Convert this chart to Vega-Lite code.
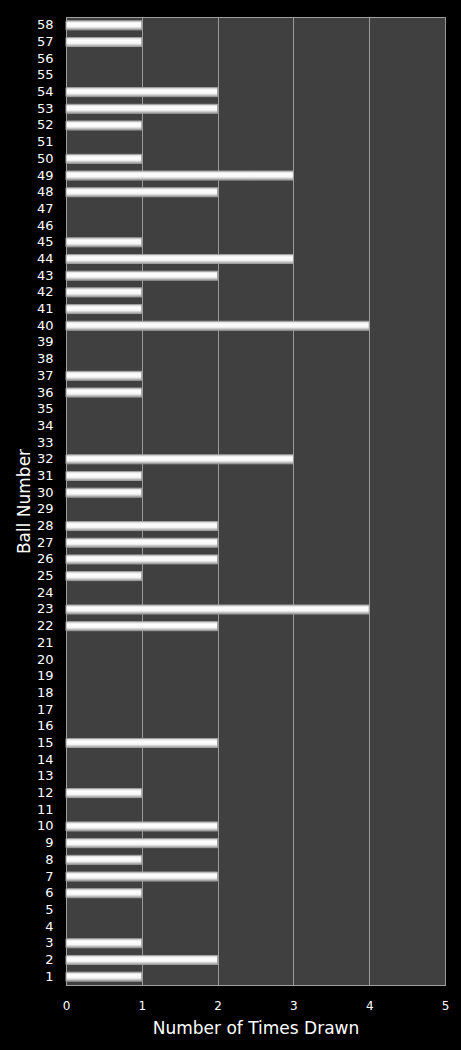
{
  "$schema": "https://vega.github.io/schema/vega-lite/v6.json",
  "width": 379,
  "height": 968,
  "autosize": "none",
  "padding": {"left": 66, "top": 17, "right": 16, "bottom": 65},
  "background": "#000000",
  "data": {
    "values": [
      {"ball": 58, "drawn": 1}, {"ball": 57, "drawn": 1}, {"ball": 56, "drawn": 0},
      {"ball": 55, "drawn": 0}, {"ball": 54, "drawn": 2}, {"ball": 53, "drawn": 2},
      {"ball": 52, "drawn": 1}, {"ball": 51, "drawn": 0}, {"ball": 50, "drawn": 1},
      {"ball": 49, "drawn": 3}, {"ball": 48, "drawn": 2}, {"ball": 47, "drawn": 0},
      {"ball": 46, "drawn": 0}, {"ball": 45, "drawn": 1}, {"ball": 44, "drawn": 3},
      {"ball": 43, "drawn": 2}, {"ball": 42, "drawn": 1}, {"ball": 41, "drawn": 1},
      {"ball": 40, "drawn": 4}, {"ball": 39, "drawn": 0}, {"ball": 38, "drawn": 0},
      {"ball": 37, "drawn": 1}, {"ball": 36, "drawn": 1}, {"ball": 35, "drawn": 0},
      {"ball": 34, "drawn": 0}, {"ball": 33, "drawn": 0}, {"ball": 32, "drawn": 3},
      {"ball": 31, "drawn": 1}, {"ball": 30, "drawn": 1}, {"ball": 29, "drawn": 0},
      {"ball": 28, "drawn": 2}, {"ball": 27, "drawn": 2}, {"ball": 26, "drawn": 2},
      {"ball": 25, "drawn": 1}, {"ball": 24, "drawn": 0}, {"ball": 23, "drawn": 4},
      {"ball": 22, "drawn": 2}, {"ball": 21, "drawn": 0}, {"ball": 20, "drawn": 0},
      {"ball": 19, "drawn": 0}, {"ball": 18, "drawn": 0}, {"ball": 17, "drawn": 0},
      {"ball": 16, "drawn": 0}, {"ball": 15, "drawn": 2}, {"ball": 14, "drawn": 0},
      {"ball": 13, "drawn": 0}, {"ball": 12, "drawn": 1}, {"ball": 11, "drawn": 0},
      {"ball": 10, "drawn": 2}, {"ball": 9, "drawn": 2}, {"ball": 8, "drawn": 1},
      {"ball": 7, "drawn": 2}, {"ball": 6, "drawn": 1}, {"ball": 5, "drawn": 0},
      {"ball": 4, "drawn": 0}, {"ball": 3, "drawn": 1}, {"ball": 2, "drawn": 2},
      {"ball": 1, "drawn": 1}
    ]
  },
  "mark": {
    "type": "bar",
    "color": {
      "gradient": "linear",
      "x1": 0, "y1": 0, "x2": 0, "y2": 1,
      "stops": [
        {"offset": 0, "color": "#d0d0d0"},
        {"offset": 0.3, "color": "#ffffff"},
        {"offset": 0.65, "color": "#f6f6f6"},
        {"offset": 1, "color": "#9a9a9a"}
      ]
    },
    "stroke": "#a0a0a0",
    "strokeWidth": 1
  },
  "encoding": {
    "y": {
      "field": "ball",
      "type": "ordinal",
      "sort": "descending",
      "scale": {"paddingInner": 0.46, "paddingOuter": 0.23},
      "title": "Ball Number",
      "axis": {
        "ticks": false,
        "domain": true,
        "domainColor": "#a0a0a0",
        "labelPadding": 13,
        "labelFontSize": 13,
        "titleFontSize": 17,
        "titleFontWeight": "normal",
        "titlePadding": 3
      }
    },
    "x": {
      "field": "drawn",
      "type": "quantitative",
      "scale": {"domain": [0, 5]},
      "title": "Number of Times Drawn",
      "axis": {
        "values": [0, 1, 2, 3, 4, 5],
        "format": "d",
        "ticks": false,
        "domain": true,
        "domainColor": "#a0a0a0",
        "grid": true,
        "gridColor": "#9a9a9a",
        "labelFlush": false,
        "labelPadding": 15,
        "labelFontSize": 12,
        "titleFontSize": 17,
        "titleFontWeight": "normal",
        "titlePadding": 9
      }
    },
    "opacity": {
      "condition": {"test": "datum.drawn == 0", "value": 0},
      "value": 1
    }
  },
  "config": {
    "view": {"fill": "#404040", "stroke": "#a0a0a0"},
    "axis": {
      "labelColor": "#ffffff",
      "titleColor": "#ffffff",
      "labelFont": "DejaVu Sans",
      "titleFont": "DejaVu Sans"
    }
  }
}
